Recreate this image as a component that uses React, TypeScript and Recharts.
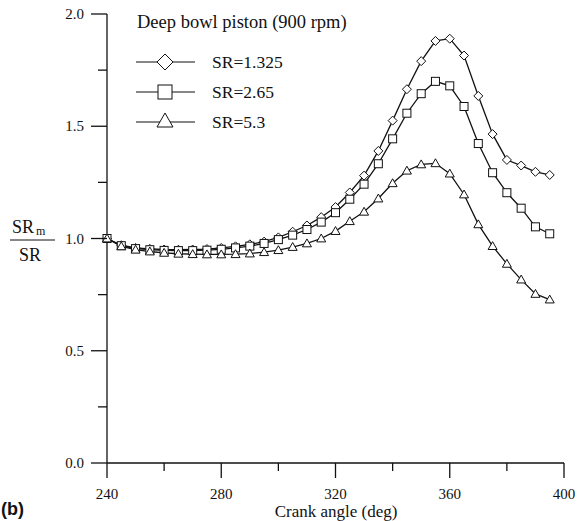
import React from "react";
import { LineChart, Line, XAxis, YAxis } from "recharts";

const angles = [
  240, 245, 250, 255, 260, 265, 270, 275, 280, 285, 290, 295, 300, 305, 310, 315,
  320, 325, 330, 335, 340, 345, 350, 355, 360, 365, 370, 375, 380, 385, 390, 395,
];

// SR = 1.325 (diamonds)
const sr1325 = [
  1.0, 0.97, 0.958, 0.954, 0.951, 0.95, 0.951, 0.953, 0.958, 0.965, 0.974, 0.986,
  1.005, 1.03, 1.058, 1.095, 1.14, 1.205, 1.28, 1.39, 1.525, 1.665, 1.79, 1.88,
  1.89, 1.815, 1.635, 1.465, 1.35, 1.325, 1.297, 1.283,
];

// SR = 2.65 (squares)
const sr265 = [
  1.0, 0.968, 0.955, 0.95, 0.947, 0.946, 0.946, 0.948, 0.952, 0.958, 0.966, 0.978,
  0.995, 1.015, 1.04, 1.073, 1.115, 1.175, 1.242, 1.333, 1.444, 1.558, 1.645, 1.7,
  1.68, 1.588, 1.423, 1.293, 1.204, 1.135, 1.052, 1.021,
];

// SR = 5.3 (triangles)
const sr53 = [
  1.0, 0.965, 0.95, 0.942, 0.936, 0.932, 0.93, 0.929, 0.929, 0.93, 0.933, 0.939,
  0.948, 0.962, 0.978, 1.0, 1.033, 1.077, 1.119, 1.178, 1.246, 1.302, 1.33, 1.335,
  1.289, 1.196, 1.063, 0.966, 0.887, 0.817, 0.753, 0.728,
];

const xTicks = [240, 260, 280, 300, 320, 340, 360, 380, 400];
const xLabels = [240, 280, 320, 360, 400];
const yTicks = [0, 0.25, 0.5, 0.75, 1.0, 1.25, 1.5, 1.75, 2.0];
const yLabels = [0, 0.5, 1.0, 1.5, 2.0];

const data = angles.map((a, i) => ({
  angle: a,
  s1: sr1325[i],
  s2: sr265[i],
  s3: sr53[i],
}));

const SERIF = "Liberation Serif, DejaVu Serif, serif";
const INK = "#111";
const serif = { fontFamily: SERIF };

function Diamond({ cx, cy, r = 4.5 }: any) {
  if (cx == null || cy == null) return null;
  return (
    <polygon
      points={`${cx},${cy - r} ${cx + r},${cy} ${cx},${cy + r} ${cx - r},${cy}`}
      fill="#fff"
      stroke={INK}
      strokeWidth={1}
    />
  );
}

function Square({ cx, cy, r = 4 }: any) {
  if (cx == null || cy == null) return null;
  return (
    <rect x={cx - r} y={cy - r} width={2 * r} height={2 * r} fill="#fff" stroke={INK} strokeWidth={1} />
  );
}

function Triangle({ cx, cy, r = 4.5 }: any) {
  if (cx == null || cy == null) return null;
  return (
    <polygon
      points={`${cx},${cy - r} ${cx + r},${cy + r * 0.75} ${cx - r},${cy + r * 0.75}`}
      fill="#fff"
      stroke={INK}
      strokeWidth={1}
    />
  );
}

function XTick({ x, y, payload }: any) {
  const major = xLabels.includes(payload.value);
  return (
    <g>
      <line x1={x} y1={y} x2={x} y2={y + (major ? 15 : 8)} stroke={INK} strokeWidth={1.3} />
      {major && (
        <text x={x} y={y + 36} textAnchor="middle" style={serif} fontSize={15} fill={INK}>
          {payload.value}
        </text>
      )}
    </g>
  );
}

function YTick({ x, y, payload }: any) {
  const major = yLabels.includes(payload.value);
  return (
    <g>
      <line x1={x - (major ? 16 : 9)} y1={y} x2={x} y2={y} stroke={INK} strokeWidth={1.3} />
      {major && (
        <text x={x - 23} y={y + 5} textAnchor="end" style={serif} fontSize={15} fill={INK}>
          {payload.value.toFixed(1)}
        </text>
      )}
    </g>
  );
}

export default function App() {
  return (
    <div
      style={{
        position: "absolute",
        left: 0,
        top: 0,
        width: 588,
        height: 521,
        background: "#fff",
        fontFamily: SERIF,
      }}
    >
      <LineChart
        width={588}
        height={521}
        data={data}
        margin={{ top: 14, right: 24, bottom: 28, left: 60 }}
      >
        <XAxis
          dataKey="angle"
          type="number"
          domain={[240, 400]}
          ticks={xTicks}
          interval={0}
          height={30}
          tickLine={false}
          tickSize={0}
          tickMargin={0}
          tick={<XTick />}
          axisLine={{ stroke: INK, strokeWidth: 1.3 }}
        />
        <YAxis
          type="number"
          domain={[0, 2]}
          ticks={yTicks}
          interval={0}
          width={47}
          tickLine={false}
          tickSize={0}
          tickMargin={0}
          tick={<YTick />}
          axisLine={{ stroke: INK, strokeWidth: 1.3 }}
        />
        <Line
          dataKey="s1"
          stroke={INK}
          strokeWidth={1.3}
          dot={(p: any) => <Diamond key={`d-${p.index}`} cx={p.cx} cy={p.cy} />}
          isAnimationActive={false}
        />
        <Line
          dataKey="s2"
          stroke={INK}
          strokeWidth={1.3}
          dot={(p: any) => <Square key={`s-${p.index}`} cx={p.cx} cy={p.cy} />}
          isAnimationActive={false}
        />
        <Line
          dataKey="s3"
          stroke={INK}
          strokeWidth={1.3}
          dot={(p: any) => <Triangle key={`t-${p.index}`} cx={p.cx} cy={p.cy} />}
          isAnimationActive={false}
        />
      </LineChart>

      <svg
        width={588}
        height={521}
        style={{ position: "absolute", left: 0, top: 0, pointerEvents: "none", fontFamily: SERIF }}
      >
        {/* legend */}
        <text x={137} y={28} style={serif} fontSize={18.5} fill={INK}>
          Deep bowl piston (900 rpm)
        </text>
        <line x1={136} y1={62} x2={195} y2={62} stroke={INK} strokeWidth={1.2} />
        <Diamond cx={165} cy={62} r={8} />
        <text x={212} y={68} style={serif} fontSize={17.5} fill={INK}>SR=1.325</text>
        <line x1={136} y1={92} x2={195} y2={92} stroke={INK} strokeWidth={1.2} />
        <Square cx={165} cy={92} r={7} />
        <text x={212} y={98} style={serif} fontSize={17.5} fill={INK}>SR=2.65</text>
        <line x1={136} y1={122} x2={195} y2={122} stroke={INK} strokeWidth={1.2} />
        <Triangle cx={165} cy={121} r={8} />
        <text x={212} y={128} style={serif} fontSize={17.5} fill={INK}>SR=5.3</text>

        {/* y axis label */}
        <text x={12} y={233} style={serif} fontSize={18} fill={INK}>
          SR<tspan fontSize={12} dx={2} dy={2}>m</tspan>
        </text>
        <line x1={10} y1={240} x2={55} y2={240} stroke={INK} strokeWidth={1} />
        <text x={30} y={261} textAnchor="middle" style={serif} fontSize={18} fill={INK}>
          SR
        </text>

        {/* x axis label */}
        <text x={336} y={517} textAnchor="middle" style={serif} fontSize={17} fill={INK}>
          Crank angle (deg)
        </text>
        <text
          x={1}
          y={515}
          style={{ fontFamily: "Liberation Sans, Arial, sans-serif" }}
          fontWeight="bold"
          fontSize={18}
          fill={INK}
        >
          (b)
        </text>
      </svg>
    </div>
  );
}
